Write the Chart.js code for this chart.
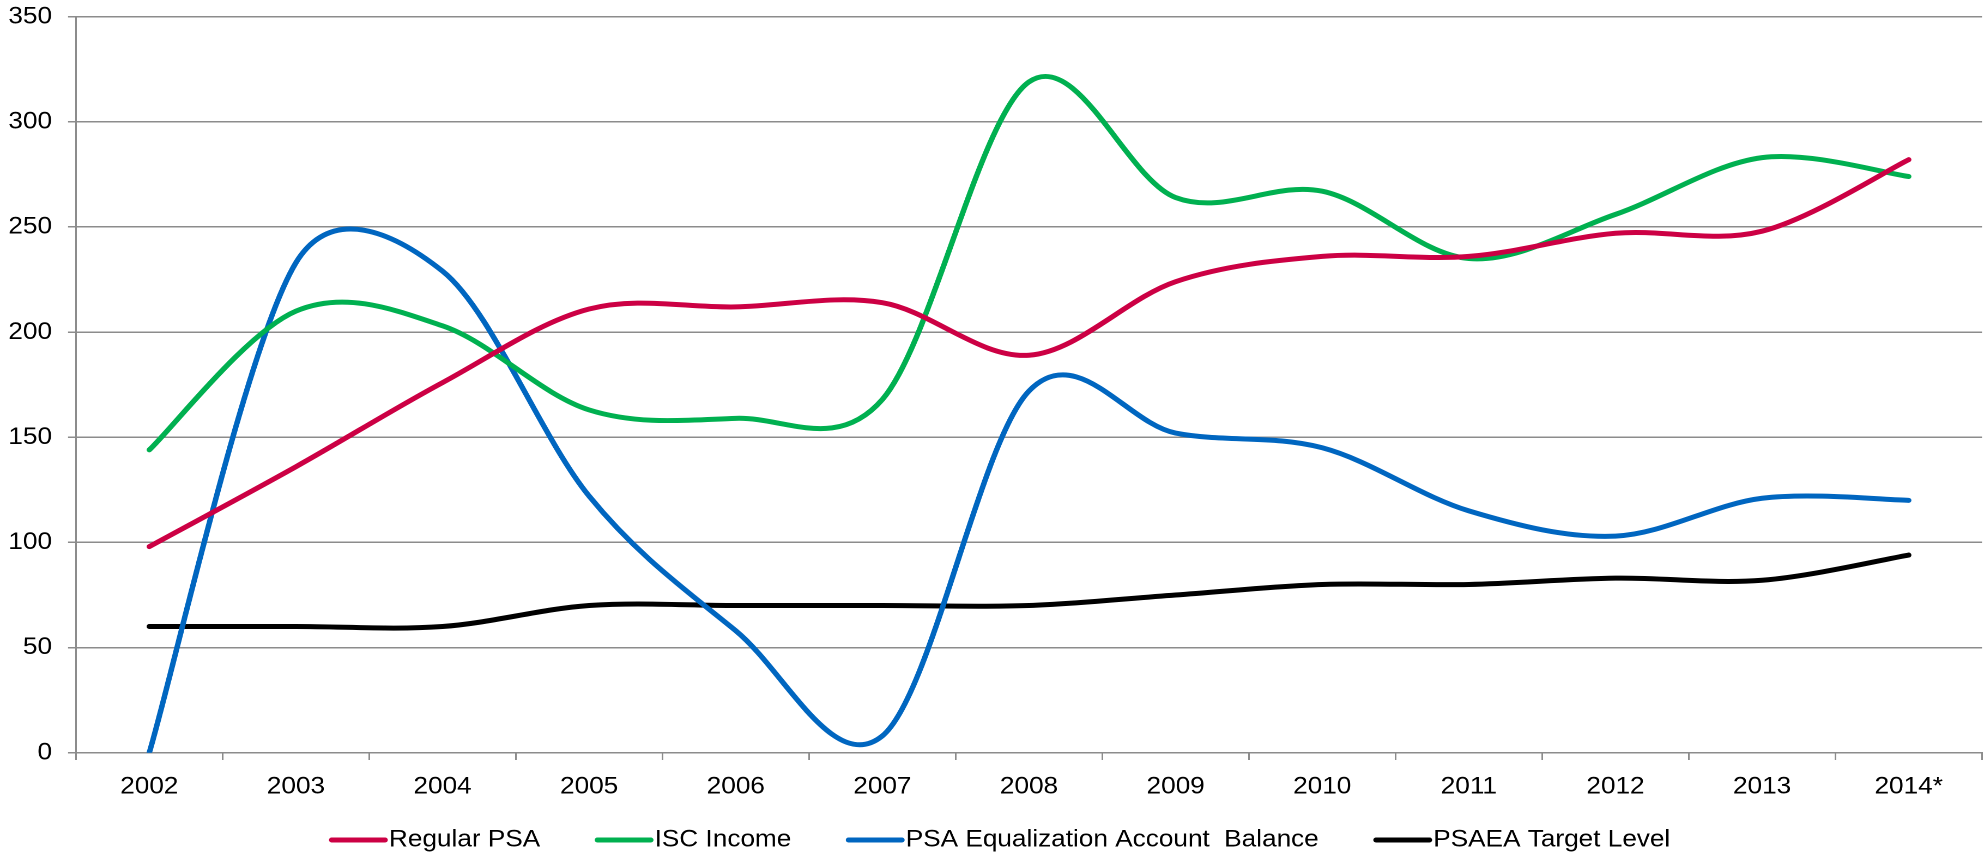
<!DOCTYPE html>
<html>
<head>
<meta charset="utf-8">
<script src="https://cdn.jsdelivr.net/npm/chart.js@4.4.1/dist/chart.umd.min.js"></script>
<style>
  html, body { margin: 0; padding: 0; background: #ffffff; overflow: hidden; }
  #wrap { width: 1984px; height: 858px; overflow: hidden; }
  /* the chart is laid out slightly narrower and widened horizontally */
  #box { width: 1820px; height: 858px; transform: scaleX(1.0901); transform-origin: 0 0; }
  canvas { display: block; }
</style>
</head>
<body>
<div id="wrap"><div id="box"><canvas id="c" width="1820" height="858"></canvas></div></div>
<script>
// Years on the horizontal axis
const years = ['2002', '2003', '2004', '2005', '2006', '2007', '2008', '2009', '2010', '2011', '2012', '2013', '2014*'];

// Series values
const regularPSA      = [98, 136, 176, 211, 212, 214, 189, 224, 236, 236, 247, 248, 282];
const iscIncome       = [144, 210, 203, 163, 159, 168, 319, 264, 267, 235, 256, 283, 274];
const equalizationBal = [0, 233, 229, 122, 58, 8, 172, 152, 145, 115, 103, 121, 120];
const targetLevel     = [60, 60, 60, 70, 70, 70, 70, 75, 80, 80, 83, 82, 94];

// Value axis
const yMin = 0, yMax = 350, yStep = 50;

const seriesNames  = ['Regular PSA', 'ISC Income', 'PSA Equalization Account  Balance', 'PSAEA Target Level'];
const seriesColors = ['#CC0044', '#00B050', '#0066C0', '#000000'];
const seriesValues = [regularPSA, iscIncome, equalizationBal, targetLevel];

const FONT = '"Liberation Sans", Arial, sans-serif';
const GRID = '#8C8C8C';
const SMOOTH = 1 / 6;   // Catmull-Rom style tangent on evenly spaced categories
const HANDLE_CAP = 0.5; // a handle never reaches past this share of its own segment

// Replace the default chord-weighted control points with evenly weighted ones,
// shortening a handle where its segment is much shorter than the tangent
const evenSpline = {
  id: 'evenSpline',
  beforeDatasetDraw(chart, args) {
    const meta = args.meta;
    const line = meta.dataset;
    const pts = meta.data;
    if (!line || !pts.length) return;
    line.updateControlPoints(chart.chartArea, meta.iScale.axis);
    const n = pts.length;
    const dist = (a, b) => Math.hypot(b.x - a.x, b.y - a.y);
    for (let i = 0; i < n; i++) {
      const p = pts[i];
      const prev = pts[Math.max(i - 1, 0)];
      const next = pts[Math.min(i + 1, n - 1)];
      const dx = (next.x - prev.x) * SMOOTH;
      const dy = (next.y - prev.y) * SMOOTH;
      const len = Math.hypot(dx, dy) || 1;
      const kBefore = Math.min(1, HANDLE_CAP * dist(prev, p) / len);
      const kAfter = Math.min(1, HANDLE_CAP * dist(p, next) / len);
      p.cp1x = p.x - dx * kBefore; p.cp1y = p.y - dy * kBefore;
      p.cp2x = p.x + dx * kAfter;  p.cp2y = p.y + dy * kAfter;
    }
    line._path = undefined;
  }
};

// Legend drawn below the axis: short line sample followed by the series name
const bottomLegend = {
  id: 'bottomLegend',
  afterDraw(chart) {
    const ctx = chart.ctx;
    const sample = 54, gap = 1, spacing = 50, y = 840;
    ctx.save();
    ctx.font = '24px ' + FONT;
    const items = chart.data.datasets.map(ds => ({
      label: ds.label, color: ds.borderColor, w: ctx.measureText(ds.label).width
    }));
    const total = items.reduce((s, it) => s + sample + gap + it.w, 0) + spacing * (items.length - 1);
    let x = 917 - total / 2;
    items.forEach(it => {
      ctx.strokeStyle = it.color;
      ctx.lineWidth = 5;
      ctx.lineCap = 'round';
      ctx.beginPath();
      ctx.moveTo(x + 2.5, y);
      ctx.lineTo(x + sample - 2.5, y);
      ctx.stroke();
      ctx.fillStyle = '#000000';
      ctx.textBaseline = 'middle';
      ctx.textAlign = 'left';
      ctx.fillText(it.label, x + sample + gap, y);
      x += sample + gap + it.w + spacing;
    });
    ctx.restore();
  }
};

new Chart(document.getElementById('c'), {
  type: 'line',
  data: {
    labels: years,
    datasets: seriesValues.map((vals, i) => ({
      label: seriesNames[i],
      data: vals,
      borderColor: seriesColors[i],
      backgroundColor: seriesColors[i],
      borderWidth: 5,
      borderCapStyle: 'round',
      borderJoinStyle: 'round',
      pointRadius: 0,
      pointHoverRadius: 0,
      tension: 0.35,
      fill: false
    }))
  },
  options: {
    responsive: false,
    animation: false,
    devicePixelRatio: 2,
    layout: { padding: { top: 16.7, right: 1.8, left: 0, bottom: 0 } },
    plugins: {
      legend: { display: false },
      tooltip: { enabled: false }
    },
    scales: {
      x: {
        type: 'category',
        offset: true,
        grid: { display: true, drawOnChartArea: false, drawTicks: true, tickLength: 7.3, offset: true, color: GRID, lineWidth: 1.5 },
        border: { display: true, color: GRID, width: 1.5 },
        ticks: { color: '#000000', font: { family: FONT, size: 24 }, padding: 12.5, maxRotation: 0, autoSkip: false },
        afterFit: s => { s.height = 105.3; }
      },
      y: {
        min: yMin,
        max: yMax,
        grid: { color: GRID, lineWidth: 1.5, tickLength: 7.3 },
        border: { display: true, color: GRID, width: 1.5 },
        ticks: { stepSize: yStep, color: '#000000', font: { family: FONT, size: 24 }, padding: 14.7 },
        afterFit: s => { s.width = 69.7; s.paddingTop = 0; s.paddingBottom = 0; }
      }
    }
  },
  plugins: [evenSpline, bottomLegend]
});
</script>
</body>
</html>
